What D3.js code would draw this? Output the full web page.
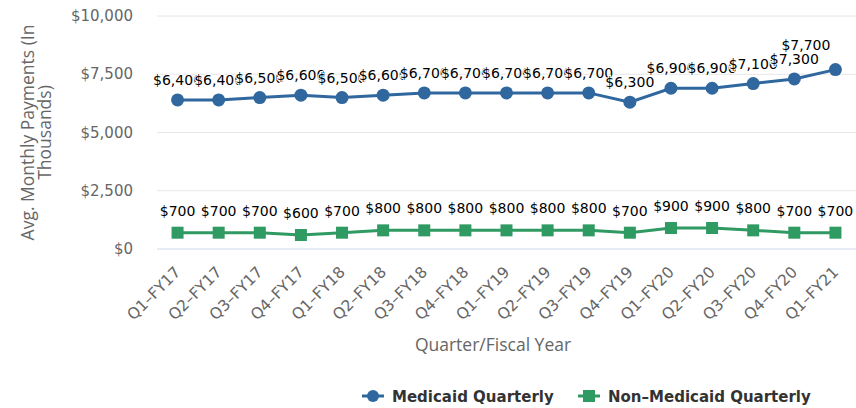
<!DOCTYPE html>
<html>
<head>
<meta charset="utf-8">
<script src="https://cdn.jsdelivr.net/npm/d3@7"></script>
<style>
  body { margin: 0; background: #fff; }
  text { font-family: "DejaVu Sans", Verdana, sans-serif; }
</style>
</head>
<body>
<div class="canvas"></div>
<script>
// data
const quarters = ["Q1-FY17","Q2-FY17","Q3-FY17","Q4-FY17","Q1-FY18","Q2-FY18","Q3-FY18","Q4-FY18",
                  "Q1-FY19","Q2-FY19","Q3-FY19","Q4-FY19","Q1-FY20","Q2-FY20","Q3-FY20","Q4-FY20","Q1-FY21"];
const medicaid = [6400,6400,6500,6600,6500,6600,6700,6700,6700,6700,6700,6300,6900,6900,7100,7300,7700];
const nonMedicaid = [700,700,700,600,700,800,800,800,800,800,800,700,900,900,800,700,700];
const yTicks = [0,2500,5000,7500,10000];

const seriesNames = ["Medicaid Quarterly","Non-Medicaid Quarterly"];
const colors = ["#2f679e","#2f9a62"];

const width = 856, height = 408;
const margin = {top: 16, right: 0, bottom: 159, left: 157};

const svg = d3.select(".canvas")
              .append("svg")
              .attr("width", width)
              .attr("height", height);

const x = d3.scaleBand()
            .domain(quarters)
            .range([margin.left, width - margin.right]);

const y = d3.scaleLinear()
            .domain([0, 10000])
            .range([height - margin.bottom, margin.top]);

const cx = d => x(d) + x.bandwidth() / 2;
const fmt = d3.format("$,");

// gridlines
svg.append("g")
   .selectAll("line")
   .data(yTicks)
   .join("line")
   .attr("x1", margin.left)
   .attr("x2", width - margin.right)
   .attr("y1", d => y(d))
   .attr("y2", d => y(d))
   .attr("stroke", (d, i) => i === 0 ? "#ccd6eb" : "#e6e6e6")
   .attr("stroke-width", 1);

// y axis labels
svg.append("g")
   .selectAll("text")
   .data(yTicks)
   .join("text")
   .attr("x", margin.left - 24)
   .attr("y", d => y(d) + 5)
   .attr("text-anchor", "end")
   .attr("fill", "#666")
   .style("font-size", "15px")
   .text(d => fmt(d));

// y axis title (two lines)
const yTitle = svg.append("text")
   .attr("transform", `translate(28,${(y(0) + y(10000)) / 2}) rotate(-90)`)
   .attr("text-anchor", "middle")
   .attr("fill", "#666")
   .style("font-family", "'Open Sans', sans-serif")
   .style("font-size", "17.5px");
yTitle.append("tspan").attr("x", 0).attr("dy", 6).text("Avg. Monthly Payments (In");
yTitle.append("tspan").attr("x", 0).attr("dy", 17).text("Thousands)");

// x axis labels, rotated
svg.append("g")
   .selectAll("text")
   .data(quarters)
   .join("text")
   .attr("transform", d => `translate(${cx(d) + 4},${y(0) + 24}) rotate(-45)`)
   .attr("text-anchor", "end")
   .attr("fill", "#666")
   .style("font-size", "15.5px")
   .text(d => d.replace("-", "\u2013"));

// x axis title
svg.append("text")
   .attr("x", 493)
   .attr("y", 351)
   .attr("text-anchor", "middle")
   .attr("fill", "#666")
   .style("font-family", "'Open Sans', sans-serif")
   .style("font-size", "17.5px")
   .text("Quarter/Fiscal Year");

const line = d3.line()
               .x((d, i) => cx(quarters[i]))
               .y(d => y(d));

[medicaid, nonMedicaid].forEach((values, s) => {
  const g = svg.append("g");
  g.append("path")
   .datum(values)
   .attr("fill", "none")
   .attr("stroke", colors[s])
   .attr("stroke-width", 3)
   .attr("d", line);

  if (s === 0) {
    g.selectAll("circle")
     .data(values)
     .join("circle")
     .attr("cx", (d, i) => cx(quarters[i]))
     .attr("cy", d => y(d))
     .attr("r", 6.5)
     .attr("fill", colors[s]);
  } else {
    g.selectAll("rect")
     .data(values)
     .join("rect")
     .attr("x", (d, i) => cx(quarters[i]) - 6)
     .attr("y", d => y(d) - 6)
     .attr("width", 12)
     .attr("height", 12)
     .attr("fill", colors[s]);
  }

  // data labels with white outline
  g.selectAll("text")
   .data(values)
   .join("text")
   .attr("x", (d, i) => cx(quarters[i]))
   .attr("y", d => y(d) - (s === 0 ? 15 : 17))
   .attr("text-anchor", "middle")
   .attr("fill", "#000")
   .attr("stroke", "#fff")
   .attr("stroke-width", 2)
   .attr("paint-order", "stroke")
   .style("font-size", "14px")
   .text(d => fmt(d))
   .each(function(d, i) {
     // keep labels inside the chart, pulled left like the original
     const box = this.getBBox();
     if (box.x + box.width > width - 2) {
       d3.select(this)
         .attr("text-anchor", "end")
         .attr("x", cx(quarters[i]) - 5)
         .attr("y", y(d) - 20);
     }
   });
});

// legend
const legend = svg.append("g").attr("transform", "translate(362,396)");
const legendX = [0, 216];
seriesNames.forEach((name, s) => {
  const lg = legend.append("g").attr("transform", `translate(${legendX[s]},0)`);
  lg.append("line")
    .attr("x1", 0).attr("x2", 22)
    .attr("y1", 0).attr("y2", 0)
    .attr("stroke", colors[s])
    .attr("stroke-width", 3);
  if (s === 0) {
    lg.append("circle").attr("cx", 11).attr("cy", 0).attr("r", 6).attr("fill", colors[s]);
  } else {
    lg.append("rect").attr("x", 5).attr("y", -6).attr("width", 12).attr("height", 12).attr("fill", colors[s]);
  }
  lg.append("text")
    .attr("x", 30)
    .attr("y", 6)
    .attr("fill", "#333")
    .style("font-size", "15px")
    .style("font-weight", "bold")
    .text(name.replace("-", "\u2013"));
});
</script>
</body>
</html>
